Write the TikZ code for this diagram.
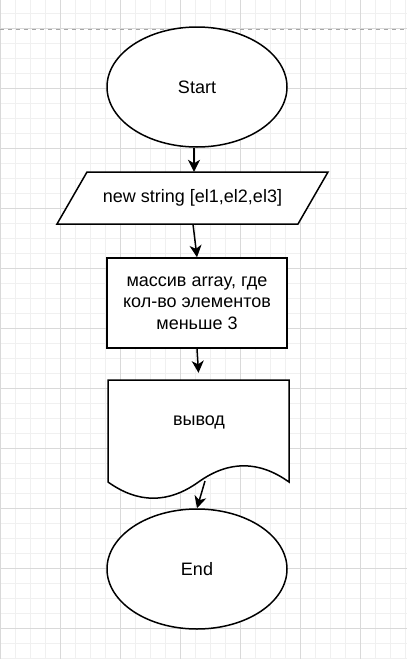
\documentclass[tikz,border=0pt]{standalone}
\usepackage{fontspec}
\setmainfont{Liberation Sans}
\usetikzlibrary{shapes.geometric,arrows.meta}
\begin{document}
\begin{tikzpicture}[x={(1pt,0)},y={(0,-1pt)},
  minorg/.style={draw=black!6,line width=1pt},
  majorg/.style={draw=black!15,line width=1pt},
  shp/.style={draw=black,line width=1.5pt,fill=white},
  term/.style={shp,ellipse,minimum width=180pt,minimum height=120pt,inner sep=0pt},
  txt/.style={font=\fontsize{18}{21.5}\selectfont,align=center,text=black},
  arr/.style={draw=black,line width=1.5pt,-{Stealth[length=12pt,width=12pt,inset=3.5pt]}}]
\useasboundingbox (0,0) rectangle (407,659);
\fill[white] (0,0) rectangle (407,659);
% grid
\foreach \x in {0,15,...,405} \draw[minorg] (\x,0) -- (\x,659);
\foreach \y in {13,28,...,658} \draw[minorg] (0,\y) -- (407,\y);
\foreach \x in {0,60,...,360} \draw[majorg] (\x,0) -- (\x,659);
\foreach \y in {28,88,...,628} \draw[majorg] (0,\y) -- (407,\y);
\draw[draw=black!35,line width=1pt,dash pattern=on 4pt off 4pt] (0,29) -- (407,29);
% start
\node[term,txt] (start) at (197,87) {Start};
% input parallelogram
\node[txt,minimum width=241pt,minimum height=52pt,inner sep=0pt] (inp) at (192.5,198) {};
\draw[shp] (87,172) -- (328,172) -- (298,224) -- (57,224) -- cycle;
\node[txt] at (inp.center) {new string [el1,el2,el3]};
% process
\node[shp,txt,minimum width=180pt,minimum height=90pt,inner sep=0pt] (proc) at (197,303)
  {массив array, где\\кол-во элементов\\меньше 3};
% document
\node[minimum width=181pt,minimum height=120pt,inner sep=0pt] (doc) at (198.5,440) {};
\draw[shp] (108,380) -- (289,380) -- (289,482)
  .. controls (258.83,460.4) and (228.67,460.4) .. (198.5,482)
  .. controls (168.33,503.6) and (138.17,503.6) .. (108,482) -- cycle;
\node[txt] (doctext) at (199,422) {вывод};
\coordinate (docw) at (205,481);
% end
\node[term,txt] (end) at (197,569) {End};
% arrows
\draw[arr] ([xshift=-3pt]start.south) -- ([xshift=1.5pt]inp.north);
\draw[arr] ([xshift=0.5pt]inp.south) -- (proc.north);
\draw[arr] (proc.south) -- ([yshift=7pt]doc.north);
\draw[arr] (docw) -- (end.north);
\end{tikzpicture}
\end{document}
